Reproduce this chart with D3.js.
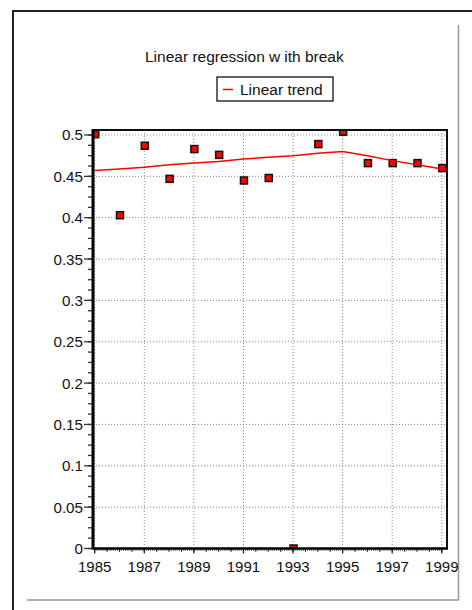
<!DOCTYPE html>
<html><head><meta charset="utf-8">
<script src="https://cdn.jsdelivr.net/npm/d3@7/dist/d3.min.js"></script>
<style>html,body{margin:0;padding:0;background:#fff;}svg{display:block;font-family:"Liberation Sans",Arial,sans-serif;}</style>
</head><body>
<svg id="c" width="472" height="610"></svg>
<script>
const years = [1985,1986,1987,1988,1989,1990,1991,1992,1993,1994,1995,1996,1997,1998,1999];
const observed = [0.501,0.403,0.487,0.447,0.483,0.476,0.445,0.448,0.0,0.489,0.504,0.466,0.466,0.466,0.460];
const trend = [0.457,0.459,0.461,0.464,0.466,0.468,0.471,0.473,0.475,0.478,0.480,0.475,0.469,0.464,0.459];
const xTickLabels = ["1985","1987","1989","1991","1993","1995","1997","1999"];
const yTickLabels = ["0","0.05","0.1","0.15","0.2","0.25","0.3","0.35","0.4","0.45","0.5"];
const legendLabel = "Linear trend";

const svg = d3.select("#c");
const x = d3.scaleLinear().domain([1985,1999]).range([94.7,441.8]);
const y = d3.scaleLinear().domain([0,0.5]).range([548.5,135]);
const plotL = 93, plotR = 447, plotT = 130, plotB = 548.5;

svg.append("defs").append("clipPath").attr("id","plotclip").append("rect")
  .attr("x",plotL).attr("y",plotT).attr("width",plotR-plotL).attr("height",plotB-plotT);

// outer frame
svg.append("line").attr("x1",13).attr("y1",11).attr("x2",472).attr("y2",11).attr("stroke","#222").attr("stroke-width",2);
svg.append("line").attr("x1",13).attr("y1",10).attr("x2",13).attr("y2",610).attr("stroke","#222").attr("stroke-width",2);
svg.append("line").attr("x1",27).attr("y1",600).attr("x2",459).attr("y2",600).attr("stroke","#999").attr("stroke-width",1.5);
svg.append("line").attr("x1",458.5).attr("y1",25).attr("x2",458.5).attr("y2",600).attr("stroke","#999").attr("stroke-width",1.5);

// title
const t = svg.append("text").attr("x",145).attr("y",62).attr("font-size",15.5).attr("fill","#111");
t.append("tspan").text("Linear regression w");
t.append("tspan").attr("dx",4).text("ith break");

// legend
svg.append("rect").attr("x",217).attr("y",77).attr("width",116).attr("height",24).attr("fill","#fff").attr("stroke","#111").attr("stroke-width",1.3);
svg.append("line").attr("x1",223).attr("x2",233).attr("y1",89.5).attr("y2",89.5).attr("stroke","#ff0000").attr("stroke-width",1.5);
svg.append("text").attr("x",240).attr("y",94.5).attr("font-size",15.5).attr("fill","#111").text(legendLabel);

// gridlines
const yVals = yTickLabels.map(Number);
svg.append("g").selectAll("line").data(yVals.filter(v=>v>0)).join("line")
  .attr("x1",plotL).attr("x2",plotR).attr("y1",d=>y(d)).attr("y2",d=>y(d))
  .attr("stroke","#888").attr("stroke-width",1).attr("stroke-dasharray","1,2");
const xVals = xTickLabels.map(Number);
svg.append("g").selectAll("line").data(xVals).join("line")
  .attr("x1",d=>x(d)).attr("x2",d=>x(d)).attr("y1",plotT).attr("y2",plotB)
  .attr("stroke","#888").attr("stroke-width",1).attr("stroke-dasharray","1,2");

// markers (clipped to plot area)
svg.append("g").attr("clip-path","url(#plotclip)").selectAll("rect").data(years.map((yr,i)=>[yr,observed[i]])).join("rect")
  .attr("x",d=>x(d[0])-3).attr("y",d=>y(d[1])-3.5).attr("width",7).attr("height",7)
  .attr("fill","#ff0000").attr("stroke","#111").attr("stroke-width",1.5);

// trend line
svg.append("path").datum(years.map((yr,i)=>[yr,trend[i]]))
  .attr("d",d3.line().x(d=>x(d[0])).y(d=>y(d[1])))
  .attr("fill","none").attr("stroke","#ff0000").attr("stroke-width",1.5);

// plot frame top/right
svg.append("line").attr("x1",plotL).attr("x2",plotR+1).attr("y1",plotT).attr("y2",plotT).attr("stroke","#111").attr("stroke-width",2);
svg.append("line").attr("x1",plotR).attr("x2",plotR).attr("y1",plotT).attr("y2",plotB).attr("stroke","#111").attr("stroke-width",2);

// y axis ticks
const yMinor = d3.range(0, 0.5001, 0.0125);
svg.append("g").selectAll("line").data(yMinor).join("line")
  .attr("x1",88).attr("x2",92).attr("y1",d=>y(d)).attr("y2",d=>y(d))
  .attr("stroke","#333").attr("stroke-width",1.3);
svg.append("g").selectAll("line").data(yVals).join("line")
  .attr("x1",84).attr("x2",92).attr("y1",d=>y(d)).attr("y2",d=>y(d))
  .attr("stroke","#333").attr("stroke-width",1.3);
svg.append("g").selectAll("text").data(yTickLabels).join("text")
  .attr("x",83).attr("y",d=>y(+d)).attr("dy","0.36em").attr("text-anchor","end")
  .attr("font-size",15.2).attr("fill","#111").text(d=>d);

// x axis ticks
const xMonthly = d3.range(0, 14*12+1).map(i=>1985+i/12);
svg.append("g").selectAll("line").data(xMonthly).join("line")
  .attr("x1",d=>x(d)).attr("x2",d=>x(d)).attr("y1",plotB).attr("y2",plotB+2.5)
  .attr("stroke","#555").attr("stroke-width",0.8);
const xHalf = d3.range(0, 29).map(i=>1985+i/2);
svg.append("g").selectAll("line").data(xHalf).join("line")
  .attr("x1",d=>x(d)).attr("x2",d=>x(d)).attr("y1",plotB).attr("y2",plotB+3.5)
  .attr("stroke","#333").attr("stroke-width",1);
svg.append("g").selectAll("line").data(xVals).join("line")
  .attr("x1",d=>x(d)).attr("x2",d=>x(d)).attr("y1",plotB).attr("y2",plotB+5)
  .attr("stroke","#222").attr("stroke-width",1.3);
svg.append("g").selectAll("text").data(xTickLabels).join("text")
  .attr("x",d=>x(+d)).attr("y",571.5).attr("text-anchor","middle")
  .attr("font-size",15).attr("fill","#111").text(d=>d);

// axis lines
svg.append("line").attr("x1",plotL).attr("x2",plotR+1).attr("y1",plotB).attr("y2",plotB).attr("stroke","#000").attr("stroke-width",2.5);
svg.append("line").attr("x1",plotL).attr("x2",plotL).attr("y1",plotT-1).attr("y2",plotB+1).attr("stroke","#000").attr("stroke-width",3);
</script>
</body></html>
